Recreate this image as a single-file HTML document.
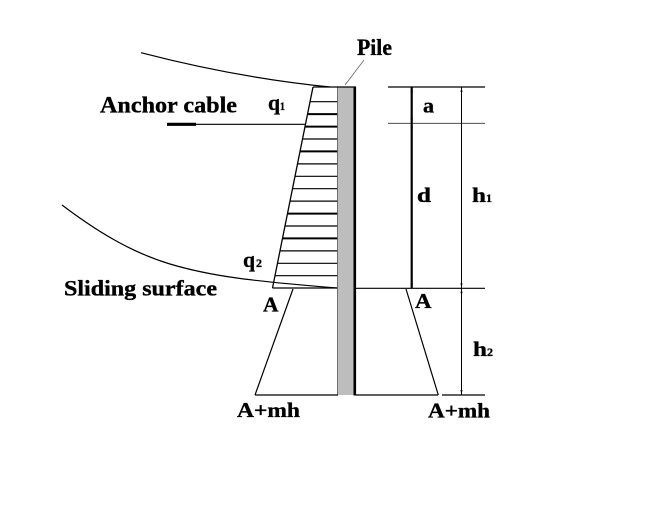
<!DOCTYPE html>
<html>
<head>
<meta charset="utf-8">
<style>
html,body{margin:0;padding:0;background:#fff;}
svg{display:block;}
text{font-family:"Liberation Serif",serif;font-weight:bold;fill:#000;stroke:#000;stroke-width:0.35;}
</style>
</head>
<body>
<svg width="649" height="520" viewBox="0 0 649 520" xmlns="http://www.w3.org/2000/svg">
<rect x="0" y="0" width="649" height="520" fill="#fff"/>

<!-- upper ground curve -->
<path d="M141,52.7 Q237,77.7 330,87" fill="none" stroke="#000" stroke-width="1.2"/>

<!-- sliding surface curve -->
<path d="M62,205 C95,230 130,252 170,264 S250,281 337,288" fill="none" stroke="#000" stroke-width="1.2"/>

<!-- distributed load trapezoid -->
<line x1="313" y1="87" x2="272.5" y2="288" stroke="#000" stroke-width="1.3"/>
<line x1="313" y1="87" x2="338" y2="87" stroke="#000" stroke-width="1.3"/>
<line x1="272.5" y1="288" x2="338" y2="288" stroke="#000" stroke-width="1.2"/>

<!-- hatch lines -->
<g stroke="#000">
<line x1="310.0" y1="101.7" x2="338" y2="101.7" stroke-width="1.2"/>
<line x1="307.5" y1="114.1" x2="338" y2="114.1" stroke-width="2"/>
<line x1="305.0" y1="126.6" x2="338" y2="126.6" stroke-width="2"/>
<line x1="302.4" y1="139.0" x2="338" y2="139.0" stroke-width="1.2"/>
<line x1="299.9" y1="151.4" x2="338" y2="151.4" stroke-width="2"/>
<line x1="297.4" y1="163.9" x2="338" y2="163.9" stroke-width="1.2"/>
<line x1="294.8" y1="176.3" x2="338" y2="176.3" stroke-width="1.2"/>
<line x1="292.3" y1="188.7" x2="338" y2="188.7" stroke-width="1.2"/>
<line x1="289.8" y1="201.1" x2="338" y2="201.1" stroke-width="1.2"/>
<line x1="287.2" y1="213.6" x2="338" y2="213.6" stroke-width="2"/>
<line x1="284.7" y1="226.0" x2="338" y2="226.0" stroke-width="1.2"/>
<line x1="282.2" y1="238.4" x2="338" y2="238.4" stroke-width="2"/>
<line x1="279.7" y1="250.9" x2="338" y2="250.9" stroke-width="1.2"/>
<line x1="277.1" y1="263.3" x2="338" y2="263.3" stroke-width="1.2"/>
<line x1="274.6" y1="275.7" x2="338" y2="275.7" stroke-width="1.2"/>
</g>

<!-- anchor cable -->
<line x1="195" y1="124.3" x2="306" y2="124.3" stroke="#000" stroke-width="1.1"/>
<line x1="167" y1="124.3" x2="196" y2="124.3" stroke="#000" stroke-width="3.2"/>

<!-- pile -->
<rect x="337.5" y="87" width="16.5" height="308" fill="#bdbdbd"/>
<line x1="337.5" y1="87" x2="337.5" y2="395" stroke="#555" stroke-width="0.8"/>
<line x1="354.8" y1="86.5" x2="354.8" y2="395.5" stroke="#000" stroke-width="2.6"/>
<line x1="337" y1="87" x2="356" y2="87" stroke="#000" stroke-width="1.2"/>

<!-- pile leader -->
<line x1="345" y1="85" x2="364" y2="60" stroke="#666" stroke-width="0.8"/>

<!-- lower part -->
<line x1="356" y1="288.3" x2="485" y2="288.3" stroke="#000" stroke-width="1.2"/>
<line x1="255" y1="395" x2="338" y2="395" stroke="#000" stroke-width="1.2"/>
<line x1="356" y1="395" x2="438" y2="395" stroke="#000" stroke-width="1.2"/>
<line x1="442" y1="395" x2="485" y2="395" stroke="#000" stroke-width="1.2"/>
<line x1="293" y1="289" x2="255" y2="395" stroke="#000" stroke-width="1.2"/>
<line x1="406" y1="289" x2="438.3" y2="395" stroke="#000" stroke-width="1.2"/>

<!-- dimension lines -->
<line x1="388" y1="87" x2="485" y2="87" stroke="#000" stroke-width="1.2"/>
<line x1="388" y1="123.3" x2="485" y2="123.3" stroke="#333" stroke-width="0.9"/>
<line x1="411.7" y1="87" x2="411.7" y2="288" stroke="#000" stroke-width="2.2"/>
<line x1="461.5" y1="87" x2="461.5" y2="395" stroke="#000" stroke-width="1"/>
<g fill="#000">
<polygon points="411.7,87 410.5,92 412.9,92"/>
<polygon points="411.7,123.3 410.5,118.3 412.9,118.3"/>
<polygon points="411.7,123.3 410.5,128.3 412.9,128.3"/>
<polygon points="411.7,288 410.5,283 412.9,283"/>
<polygon points="461.5,87 460.5,92 462.5,92"/>
<polygon points="461.5,288.3 460.5,283.3 462.5,283.3"/>
<polygon points="461.5,288.3 460.5,293.3 462.5,293.3"/>
<polygon points="461.5,395 460.5,390 462.5,390"/>
</g>

<!-- labels -->
<text x="357" y="55" font-size="23" textLength="35" lengthAdjust="spacingAndGlyphs">Pile</text>
<text x="100" y="112.5" font-size="23" textLength="137" lengthAdjust="spacingAndGlyphs">Anchor cable</text>
<text x="268" y="110" font-size="22" textLength="12" lengthAdjust="spacingAndGlyphs">q</text>
<text x="280" y="110" font-size="12" textLength="5" lengthAdjust="spacingAndGlyphs">1</text>
<text x="243" y="267" font-size="22" textLength="12" lengthAdjust="spacingAndGlyphs">q</text>
<text x="256" y="267" font-size="12" textLength="6" lengthAdjust="spacingAndGlyphs">2</text>
<text x="64" y="295.5" font-size="22" textLength="153" lengthAdjust="spacingAndGlyphs">Sliding surface</text>
<text x="263" y="311.5" font-size="21" textLength="15.5" lengthAdjust="spacingAndGlyphs">A</text>
<text x="415" y="308" font-size="21" textLength="16.5" lengthAdjust="spacingAndGlyphs">A</text>
<text x="237" y="417" font-size="21" textLength="63" lengthAdjust="spacingAndGlyphs">A+mh</text>
<text x="428" y="417.5" font-size="21" textLength="62" lengthAdjust="spacingAndGlyphs">A+mh</text>
<text x="423" y="112.5" font-size="21" textLength="11" lengthAdjust="spacingAndGlyphs">a</text>
<text x="417" y="202" font-size="21" textLength="14" lengthAdjust="spacingAndGlyphs">d</text>
<text x="472" y="202" font-size="21" textLength="14" lengthAdjust="spacingAndGlyphs">h</text>
<text x="486" y="202" font-size="12" textLength="6" lengthAdjust="spacingAndGlyphs">1</text>
<text x="473" y="356" font-size="21" textLength="14" lengthAdjust="spacingAndGlyphs">h</text>
<text x="487" y="356" font-size="12" textLength="6" lengthAdjust="spacingAndGlyphs">2</text>
</svg>
</body>
</html>
